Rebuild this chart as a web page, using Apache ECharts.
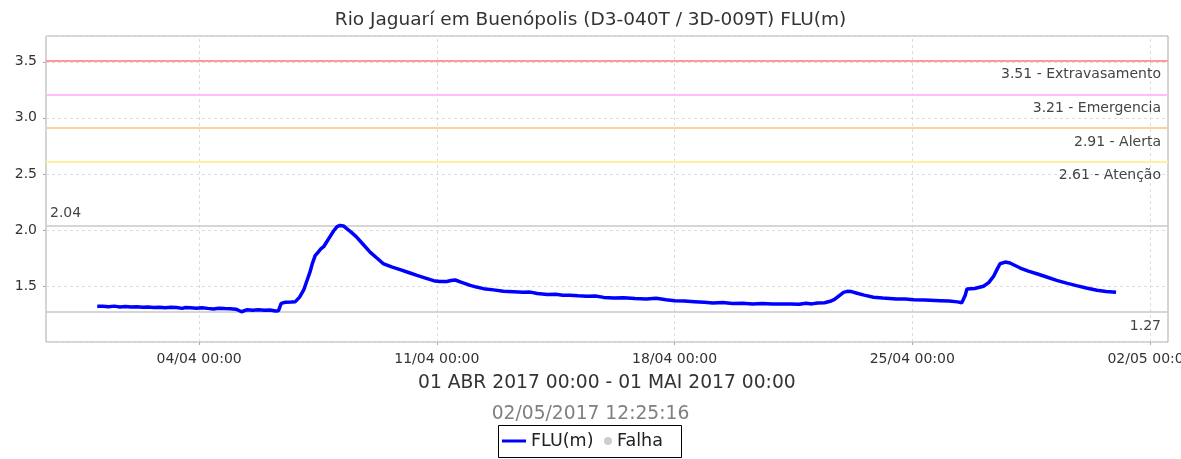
<!DOCTYPE html>
<html>
<head>
<meta charset="utf-8">
<script src="https://cdn.jsdelivr.net/npm/echarts@6/dist/echarts.min.js"></script>
<style>
  html, body { margin: 0; padding: 0; background: #ffffff; }
  #chart { width: 1181px; height: 459px; }
</style>
</head>
<body>
<div id="chart"></div>
<script>
// ---- texts ----
const stationTitle = 'Rio Jaguarí em Buenópolis (D3-040T / 3D-009T) FLU(m)';
const periodText = '01 ABR 2017 00:00 - 01 MAI 2017 00:00';
const generatedAt = '02/05/2017 12:25:16';
const seriesName = 'FLU(m)';
const failName = 'Falha';

// ---- level readings: hours after 01/04/2017 00:00 and river level (m) ----
const hoursFromStart = [
  0, 4, 8, 12, 16, 20, 24, 28, 32, 36, 40, 44, 48, 52, 56, 60, 62, 66, 70, 74,
  78, 82, 86, 90, 94, 98, 102, 106, 110, 114, 118, 122, 126, 128, 129, 130, 133, 137, 140, 143,
  146, 148, 150.5, 152, 154, 156, 158, 160, 162, 164.5, 167, 169.5, 171.5, 174, 176.5, 179, 183, 188, 193, 198,
  202, 208, 214, 220, 226, 232, 237.7, 242, 247, 250, 253, 257, 263.6, 268, 273, 280, 287, 294, 301, 306,
  311, 318, 324, 329, 334, 340, 346, 352, 358, 365, 372, 380, 388, 395, 402, 408, 415, 422, 429, 435,
  442, 449, 456, 463, 470, 477, 484, 490, 496, 501, 505, 509, 514, 518, 521, 524, 527.4, 530, 533, 537,
  542, 548.6, 555, 565, 571, 577, 585, 595.7, 602, 608, 611, 612, 613.5, 614.6, 620, 626.3, 630, 633.4, 636, 638,
  641.7, 645, 652.3, 658, 664, 671, 678, 685, 692, 699, 706.5, 713, 720
];
const levelValues = [
  1.32, 1.318, 1.315, 1.32, 1.313, 1.316, 1.312, 1.315, 1.31, 1.312, 1.308, 1.311, 1.306, 1.31, 1.308, 1.30, 1.307, 1.305, 1.302, 1.306,
  1.30, 1.295, 1.302, 1.298, 1.296, 1.293, 1.27, 1.288, 1.283, 1.287, 1.284, 1.285, 1.276, 1.278, 1.31, 1.345, 1.355, 1.357, 1.36, 1.40,
  1.467, 1.54, 1.63, 1.70, 1.77, 1.80, 1.83, 1.85, 1.89, 1.94, 1.99, 2.03, 2.04, 2.035, 2.01, 1.985, 1.94, 1.87, 1.80, 1.745,
  1.70, 1.67, 1.645, 1.62, 1.594, 1.57, 1.547, 1.54, 1.54, 1.548, 1.553, 1.535, 1.505, 1.49, 1.476, 1.465, 1.452, 1.448, 1.443, 1.445,
  1.432, 1.423, 1.426, 1.418, 1.417, 1.412, 1.408, 1.41, 1.398, 1.393, 1.395, 1.388, 1.384, 1.39, 1.377, 1.369, 1.365, 1.36, 1.355, 1.349,
  1.352, 1.343, 1.345, 1.34, 1.343, 1.338, 1.34, 1.34, 1.336, 1.345, 1.34, 1.348, 1.35, 1.363, 1.38, 1.41, 1.443, 1.452, 1.45, 1.435,
  1.418, 1.40, 1.392, 1.384, 1.383, 1.378, 1.375, 1.369, 1.365, 1.358, 1.35, 1.356, 1.42, 1.473, 1.477, 1.497, 1.53, 1.585, 1.65, 1.698,
  1.713, 1.705, 1.66, 1.632, 1.609, 1.58, 1.55, 1.525, 1.503, 1.482, 1.461, 1.45, 1.443
];

// ---- alert levels ----
const thresholdValues = [3.51, 3.21, 2.91, 2.61];
const thresholdNames = ['Extravasamento', 'Emergencia', 'Alerta', 'Atenção'];
const thresholdColors = ['#ff9a9a', '#ffbdfb', '#ffcf9e', '#fff0a0'];

// ---- axis ticks ----
const xTickDates = ['2017-04-04', '2017-04-11', '2017-04-18', '2017-04-25', '2017-05-02'];
const yTickStep = 0.5;

const HOUR = 3600 * 1000;
const startTime = Date.UTC(2017, 3, 1, 0, 0);
const points = hoursFromStart.map((h, i) => [startTime + h * HOUR, levelValues[i]]);
const maxLevel = Math.max(...levelValues);
const minLevel = Math.min(...levelValues);
const xTicks = xTickDates.map(d => Date.parse(d + 'T00:00:00Z'));

const pad = n => String(n).padStart(2, '0');
const fmtTick = t => {
  const d = new Date(t);
  return pad(d.getUTCDate()) + '/' + pad(d.getUTCMonth() + 1) + ' ' + pad(d.getUTCHours()) + ':' + pad(d.getUTCMinutes());
};

const FONT = 'DejaVu Sans';

const markLineData = [];
thresholdValues.forEach((v, i) => {
  markLineData.push({
    yAxis: v,
    lineStyle: { color: thresholdColors[i], width: 2, type: 'solid' },
    label: {
      show: true, position: 'insideEndBottom', distance: [7, 7],
      formatter: v.toFixed(2) + ' - ' + thresholdNames[i],
      color: '#444', fontSize: 14, fontFamily: FONT
    }
  });
});
markLineData.push({
  yAxis: maxLevel,
  lineStyle: { color: '#c8c8c8', width: 1.5, type: 'solid' },
  label: { show: true, position: 'insideStartTop', distance: [4, 5], formatter: maxLevel.toFixed(2),
    color: '#444', fontSize: 14, fontFamily: FONT }
});
markLineData.push({
  yAxis: minLevel,
  lineStyle: { color: '#c8c8c8', width: 1.5, type: 'solid' },
  label: { show: true, position: 'insideEndBottom', distance: [7, 8], formatter: minLevel.toFixed(2),
    color: '#444', fontSize: 14, fontFamily: FONT }
});

const chart = echarts.init(document.getElementById('chart'), null, { renderer: 'canvas' });
chart.setOption({
  animation: false,
  backgroundColor: '#ffffff',
  textStyle: { fontFamily: FONT },
  title: [
    { text: stationTitle, left: 'center', top: 6,
      textStyle: { fontSize: 18.5, fontWeight: 'normal', color: '#333', fontFamily: FONT } },
    { text: periodText, left: 413, top: 369,
      textStyle: { fontSize: 18.7, fontWeight: 'normal', color: '#333', fontFamily: FONT } },
    { text: generatedAt, left: 'center', top: 400,
      textStyle: { fontSize: 18.7, fontWeight: 'normal', color: '#808080', fontFamily: FONT } }
  ],
  grid: { left: 46, right: 13, top: 36, bottom: 117, outerBoundsMode: 'none',
    show: true, borderColor: '#aaaaaa', borderWidth: 1 },
  xAxis: {
    type: 'value',
    min: Date.UTC(2017, 2, 30, 11, 47),
    max: Date.UTC(2017, 4, 2, 12, 43),
    axisLine: { show: false },
    axisTick: { show: true, customValues: xTicks, length: 3, lineStyle: { color: '#aaaaaa' } },
    axisLabel: { customValues: xTicks, formatter: fmtTick, color: '#333', fontSize: 14, fontFamily: FONT,
      margin: 10, hideOverlap: false, alignMaxLabel: 'center', alignMinLabel: 'center' },
    splitLine: { show: false }
  },
  yAxis: {
    type: 'value',
    min: 1.0, max: 3.73, interval: yTickStep,
    axisLine: { show: false },
    axisTick: { show: true, length: 3, lineStyle: { color: '#aaaaaa' } },
    axisLabel: { showMaxLabel: false, showMinLabel: false, formatter: v => v.toFixed(1),
      color: '#333', fontSize: 14, fontFamily: FONT, margin: 9 },
    splitLine: { show: true, lineStyle: { color: '#dddddd', type: [3, 3], width: 1 } }
  },
  legend: [
    { left: 502, top: 432, itemWidth: 24, itemHeight: 3, itemGap: 0, padding: 0,
      data: [{ name: seriesName, icon: 'path://M0,0H24V3H0Z' }],
      textStyle: { fontSize: 17.5, color: '#222', fontFamily: FONT }, selectedMode: false },
    { left: 604, top: 432, itemWidth: 8, itemHeight: 8, itemGap: 0, padding: 0,
      data: [{ name: failName, icon: 'circle' }],
      textStyle: { fontSize: 17.5, color: '#222', fontFamily: FONT }, selectedMode: false }
  ],
  graphic: [
    { type: 'rect', shape: { x: 498.5, y: 425.5, width: 183, height: 32 },
      style: { fill: 'none', stroke: '#000', lineWidth: 1 }, silent: true }
  ],
  series: [
    {
      name: 'xgrid', type: 'line', data: [], silent: true,
      markLine: {
        silent: true, symbol: 'none', animation: false,
        label: { show: false },
        lineStyle: { color: '#dddddd', type: [3, 3], width: 1 },
        data: xTicks.map(t => ({ xAxis: t }))
      }
    },
    {
      name: seriesName, type: 'line', data: points, showSymbol: false,
      lineStyle: { color: '#0000ff', width: 3.5 }, itemStyle: { color: '#0000ff' },
      z: 5,
      markLine: { silent: true, symbol: 'none', animation: false, data: markLineData }
    },
    {
      name: failName, type: 'scatter', data: [],
      itemStyle: { color: '#c0c0c0' }
    }
  ]
});
</script>
</body>
</html>
